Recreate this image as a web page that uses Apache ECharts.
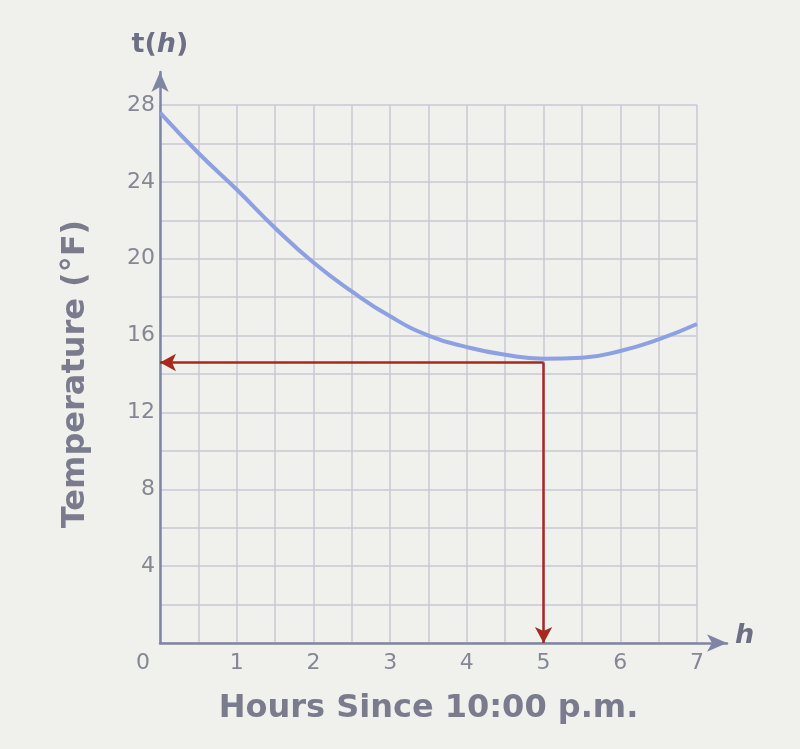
<!DOCTYPE html>
<html>
<head>
<meta charset="utf-8">
<script src="https://cdn.jsdelivr.net/npm/echarts@6/dist/echarts.min.js"></script>
<style>
html,body{margin:0;padding:0;background:#f0f0ec;}
#chart{width:800px;height:749px;}
</style>
</head>
<body>
<div id="chart"></div>
<script>
// Data
var hours = [0, 0.5, 1, 1.5, 2, 2.5, 3, 3.5, 4, 4.5, 5, 5.5, 6, 6.5, 7];
var temps = [27.6, 25.5, 23.6, 21.6, 19.8, 18.3, 17.0, 16.0, 15.4, 15.0, 14.8, 14.85, 15.2, 15.8, 16.6];
var readHour = 5;
var readTemp = 14.6;
var xLabels = [0, 1, 2, 3, 4, 5, 6, 7];
var yLabels = [4, 8, 12, 16, 20, 24, 28];

var curveData = hours.map(function (h, i) { return [h, temps[i]]; });

var axisColor = '#7f86a3';
var labelColor = '#858797';
var titleColor = '#7a7c8e';
var gridColor = '#c8c9d6';
var redColor = '#a8281d';
var fontFam = 'DejaVu Sans, Verdana, sans-serif';

var chart = echarts.init(document.getElementById('chart'));
chart.setOption({
  backgroundColor: '#f0f0ec',
  animation: false,
  grid: [
    { left: 160, right: 103, top: 105, bottom: 106 },
    { left: 160, right: 73, top: 72, bottom: 106 }
  ],
  xAxis: [
    {
      type: 'value', gridIndex: 0, min: 0, max: 7, interval: 0.5,
      axisLine: { show: false }, axisTick: { show: false },
      splitLine: { show: true, lineStyle: { color: gridColor, width: 1.5 } },
      axisLabel: {
        margin: 9, color: labelColor, fontSize: 22, fontFamily: fontFam,
        formatter: function (v) {
          if (xLabels.indexOf(v) < 0) return '';
          return v === 0 ? '{z|0}' : String(v);
        },
        rich: { z: { padding: [0, 34, 0, 0], fontSize: 22, color: labelColor, fontFamily: fontFam } }
      },
      name: 'Hours Since 10:00 p.m.', nameLocation: 'middle', nameGap: 50,
      nameTextStyle: { color: titleColor, fontSize: 32, fontWeight: 'bold', fontFamily: fontFam }
    },
    {
      type: 'value', gridIndex: 1, min: 0, max: 1,
      axisLine: { show: true, symbol: ['none', 'arrow'], symbolSize: [13, 20], lineStyle: { color: axisColor, width: 2.5 } },
      axisTick: { show: false }, axisLabel: { show: false }, splitLine: { show: false },
      name: '{i|h}', nameLocation: 'end', nameGap: 8,
      nameTextStyle: { rich: { i: { fontStyle: 'italic', fontWeight: 'bold', fontSize: 27, color: '#6d7084', fontFamily: fontFam, padding: [0, 0, 14, 0] } } }
    }
  ],
  yAxis: [
    {
      type: 'value', gridIndex: 0, min: 0, max: 28, interval: 2,
      axisLine: { show: false }, axisTick: { show: false },
      splitLine: { show: true, lineStyle: { color: gridColor, width: 1.5 } },
      axisLabel: {
        margin: 5, color: labelColor, fontSize: 22, fontFamily: fontFam,
        formatter: function (v) { return yLabels.indexOf(v) >= 0 ? String(v) : ''; }
      },
      name: 'Temperature (°F)', nameLocation: 'middle', nameGap: 68, nameRotate: 90,
      nameTextStyle: { color: titleColor, fontSize: 32, fontWeight: 'bold', fontFamily: fontFam }
    },
    {
      type: 'value', gridIndex: 1, min: 0, max: 1,
      axisLine: { show: true, symbol: ['none', 'arrow'], symbolSize: [13, 20], lineStyle: { color: axisColor, width: 2.5 } },
      axisTick: { show: false }, axisLabel: { show: false }, splitLine: { show: false },
      name: '{n|t(}{i|h}{n|)}', nameLocation: 'end', nameGap: 14,
      nameTextStyle: {
        rich: {
          n: { fontWeight: 'bold', fontSize: 27, color: '#6d7084', fontFamily: fontFam },
          i: { fontStyle: 'italic', fontWeight: 'bold', fontSize: 27, color: '#6d7084', fontFamily: fontFam }
        }
      }
    }
  ],
  series: [
    {
      type: 'line', xAxisIndex: 0, yAxisIndex: 0,
      data: curveData, smooth: true, showSymbol: false,
      lineStyle: { color: '#8da0e2', width: 4 },
      markLine: {
        silent: true, symbol: ['none', 'arrow'], symbolSize: [13, 16],
        label: { show: false },
        lineStyle: { color: redColor, width: 2.5, type: 'solid' },
        data: [
          [{ coord: [readHour, readTemp] }, { coord: [0, readTemp] }],
          [{ coord: [readHour, readTemp] }, { coord: [readHour, 0] }]
        ]
      }
    }
  ]
});
</script>
</body>
</html>
